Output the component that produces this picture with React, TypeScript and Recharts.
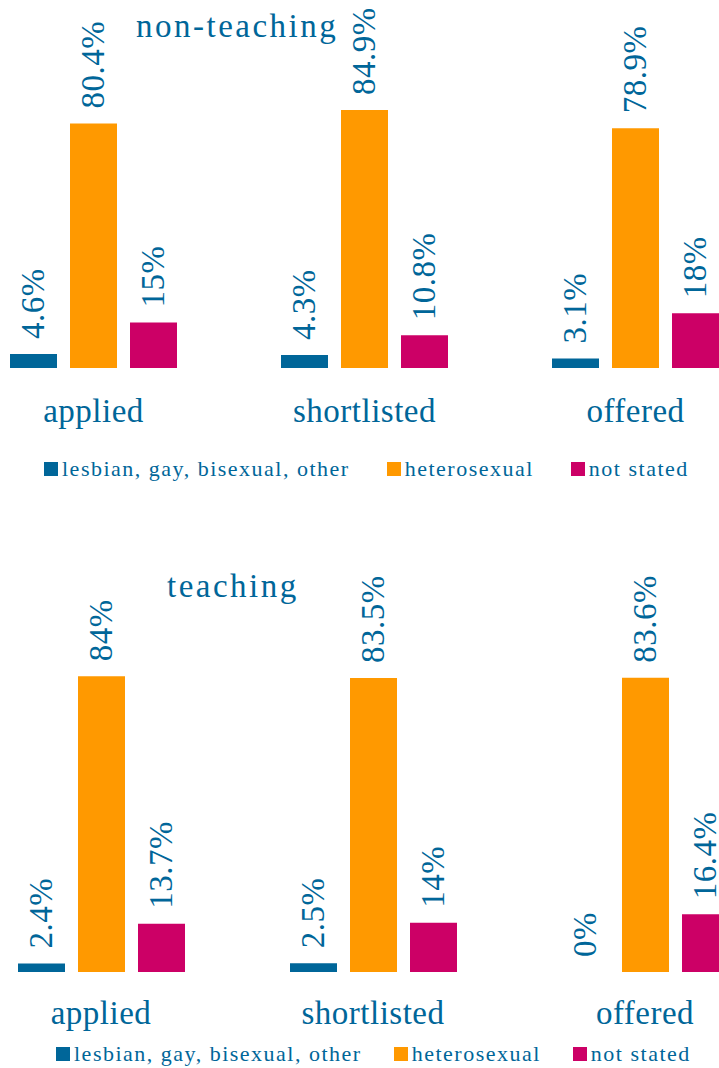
import { BarChart, Bar, XAxis, YAxis, LabelList } from 'recharts';

const categories = ['applied', 'shortlisted', 'offered'];
const seriesNames = ['lesbian, gay, bisexual, other', 'heterosexual', 'not stated'];
const seriesColors = ['#006699', '#FF9900', '#CC0066'];

const nonTeachingLgb = [4.6, 4.3, 3.1];
const nonTeachingHetero = [80.4, 84.9, 78.9];
const nonTeachingNotStated = [15, 10.8, 18];

const teachingLgb = [2.4, 2.5, 0];
const teachingHetero = [84, 83.5, 83.6];
const teachingNotStated = [13.7, 14, 16.4];

const TEXT = '#006699';
const FONT = "'Liberation Serif', 'DejaVu Serif', serif";

const buildRows = (lgb: number[], het: number[], ns: number[]) =>
  categories.map((name, i) => ({ name, lgb: lgb[i], het: het[i], ns: ns[i] }));

const nonTeachingData = buildRows(nonTeachingLgb, nonTeachingHetero, nonTeachingNotStated);
const teachingData = buildRows(teachingLgb, teachingHetero, teachingNotStated);

const ValueLabel = ({ x, y, width, value }: any) => {
  const cx = x + width / 2;
  const cy = y - 15;
  return (
    <text
      x={cx}
      y={cy}
      transform={`rotate(-90, ${cx}, ${cy})`}
      textAnchor="start"
      dominantBaseline="central"
      fill={TEXT}
      style={{ fontFamily: FONT, fontSize: 33, letterSpacing: 0.5 }}
    >
      {`${value}%`}
    </text>
  );
};

const makeTick = (offset: number) => ({ x, y, payload }: any) => (
  <text
    x={x}
    y={y + offset}
    textAnchor="middle"
    fill={TEXT}
    style={{ fontFamily: FONT, fontSize: 33, letterSpacing: 0.5 }}
  >
    {payload.value}
  </text>
);

interface PanelProps {
  title: string;
  data: Array<{ name: string; lgb: number; het: number; ns: number }>;
  top: number;
  height: number;
  chartLeft: number;
  chartWidth: number;
  plotTop: number;
  plotBottom: number;
  tickOffset: number;
  titleLeft: number;
  titleTop: number;
  legendLeft: number;
  legendTop: number;
  legendGap: number;
}

function Panel(p: PanelProps) {
  const xAxisHeight = 60;
  return (
    <div style={{ position: 'absolute', left: 0, top: p.top, width: 719, height: p.height }}>
      <div style={{ position: 'absolute', left: p.chartLeft, top: 0 }}>
        <BarChart
          width={p.chartWidth}
          height={p.height}
          data={p.data}
          margin={{ top: p.plotTop, right: 0, left: 0, bottom: p.height - p.plotBottom - xAxisHeight }}
          barSize={47}
          barGap={13}
        >
          <XAxis
            dataKey="name"
            axisLine={false}
            tickLine={false}
            tickSize={0}
            tickMargin={0}
            height={xAxisHeight}
            interval={0}
            tick={makeTick(p.tickOffset)}
          />
          <YAxis hide domain={[0, 100]} />
          <Bar dataKey="lgb" fill={seriesColors[0]} minPointSize={0.01} isAnimationActive={false}>
            <LabelList dataKey="lgb" content={<ValueLabel />} />
          </Bar>
          <Bar dataKey="het" fill={seriesColors[1]} isAnimationActive={false}>
            <LabelList dataKey="het" content={<ValueLabel />} />
          </Bar>
          <Bar dataKey="ns" fill={seriesColors[2]} isAnimationActive={false}>
            <LabelList dataKey="ns" content={<ValueLabel />} />
          </Bar>
        </BarChart>
      </div>
      <div
        style={{
          position: 'absolute',
          left: p.titleLeft,
          top: p.titleTop,
          fontFamily: FONT,
          fontSize: 33,
          lineHeight: '33px',
          letterSpacing: 2.5,
          color: TEXT,
          whiteSpace: 'nowrap',
        }}
      >
        {p.title}
      </div>
      <div
        style={{
          position: 'absolute',
          left: p.legendLeft,
          top: p.legendTop,
          fontFamily: FONT,
          fontSize: 22,
          lineHeight: '22px',
          letterSpacing: 1.5,
          color: TEXT,
          whiteSpace: 'nowrap',
        }}
      >
        {seriesNames.map((name, i) => (
          <span key={name} style={{ marginRight: p.legendGap }}>
            <span
              style={{
                display: 'inline-block',
                width: 14,
                height: 14,
                background: seriesColors[i],
                marginRight: 4,
              }}
            />
            {name}
          </span>
        ))}
      </div>
    </div>
  );
}

export default function App() {
  return (
    <div style={{ position: 'absolute', left: 0, top: 0, width: 719, height: 1068, overflow: 'hidden', background: '#fff' }}>
      <Panel
        title="non-teaching"
        data={nonTeachingData}
        top={0}
        height={500}
        chartLeft={-42}
        chartWidth={813}
        plotTop={64}
        plotBottom={368}
        tickOffset={54}
        titleLeft={136}
        titleTop={10}
        legendLeft={44}
        legendTop={458}
        legendGap={37}
      />
      <Panel
        title="teaching"
        data={teachingData}
        top={500}
        height={568}
        chartLeft={-35}
        chartWidth={816}
        plotTop={120}
        plotBottom={472}
        tickOffset={52}
        titleLeft={167}
        titleTop={70}
        legendLeft={56}
        legendTop={543}
        legendGap={32}
      />
    </div>
  );
}
